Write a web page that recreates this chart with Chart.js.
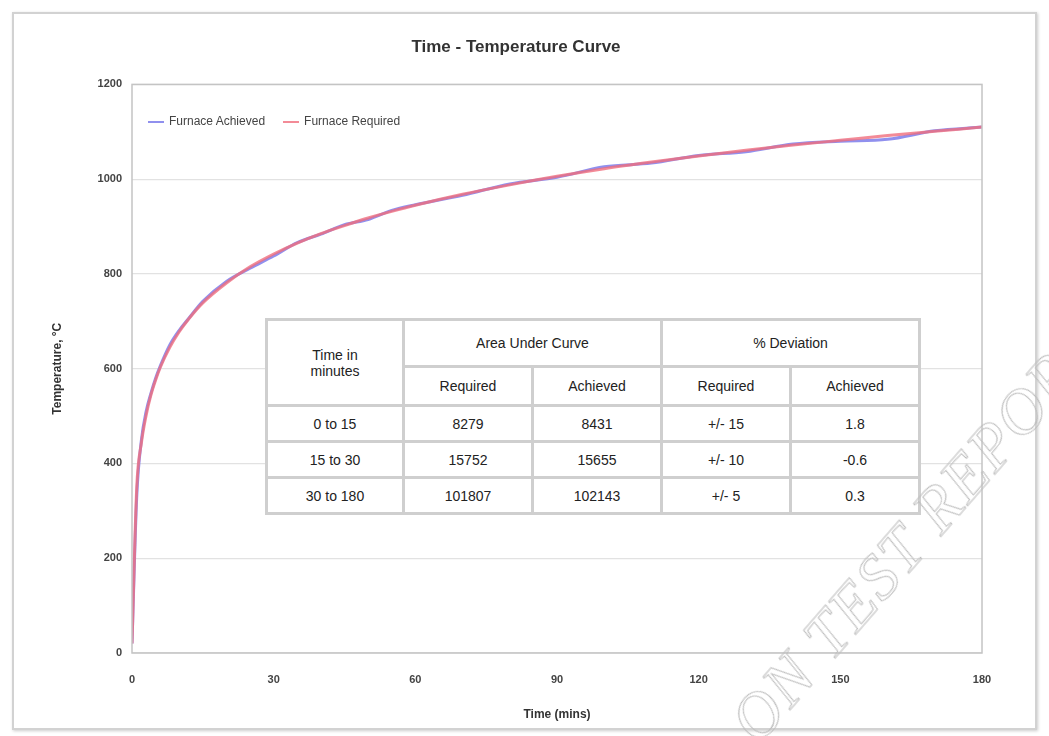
<!DOCTYPE html>
<html>
<head>
<meta charset="utf-8">
<script src="https://cdn.jsdelivr.net/npm/chart.js@4.4.1/dist/chart.umd.min.js"></script>
<style>
  html, body { margin: 0; padding: 0; background: #fff; }
  #wrap { position: relative; width: 1049px; height: 736px; overflow: hidden; font-family: Arial, "Liberation Sans", sans-serif; }
  #frame { position: absolute; left: 12px; top: 12px; width: 1021px; height: 714px; border: 2px solid #d2d2d2; box-shadow: 1px 1px 3px #ccc; }
  #legend { position: absolute; left: 148px; top: 114px; font-size: 12px; color: #444; display: flex; gap: 18px; }
  #legend span.mk { display: inline-block; width: 16px; height: 0; border-top: 2px solid; vertical-align: middle; margin-right: 5px; }
  #tbl { position: absolute; left: 265px; top: 318px; border-collapse: separate; border-spacing: 3px; background: #cfcfcf; font-size: 14px; color: #222; }
  #tbl td { background: #fff; text-align: center; padding: 0 6px; }
  #wm { position: absolute; left: 739px; top: 697px; height: 64px; line-height: 64px; font: italic 64px "Liberation Serif", "DejaVu Serif", serif; color: transparent; -webkit-text-stroke: 1px #bdbdbd; transform: rotate(-49deg); transform-origin: 0 50%; white-space: nowrap; letter-spacing: 2px; }
</style>
</head>
<body>
<div id="wrap">
  <canvas id="myChart" width="1049" height="736"></canvas>
  <div id="frame"></div>
  <div id="legend"></div>
  <table id="tbl"></table>
  <div id="wm">ON TEST REPORT</div>
</div>
<script>
// minutes
const times = [0, 1, 2, 3, 4, 5, 6, 8, 10, 12, 15, 20, 25, 30, 35, 40, 45, 50, 55, 60, 70, 80, 90, 100, 110, 120, 130, 140, 150, 160, 170, 180];
// deg C
const required = [20, 349, 444, 502, 544, 576, 603, 645, 678, 705, 739, 781, 815, 842, 865, 885, 902, 918, 932, 945, 968, 988, 1006, 1022, 1036, 1049, 1061, 1072, 1082, 1092, 1101, 1110];
const achieved = [20, 330, 450, 510, 548, 580, 606, 650, 681, 706, 742, 784, 812, 838, 866, 884, 904, 915, 934, 946, 966, 990, 1004, 1026, 1034, 1050, 1058, 1074, 1080, 1084, 1102, 1110];

const yTicks = [0, 200, 400, 600, 800, 1000, 1200];
const xTicks = [0, 30, 60, 90, 120, 150, 180];

const seriesNames = ["Furnace Achieved", "Furnace Required"];
const seriesColors = ["rgba(125,125,235,0.85)", "rgba(240,110,125,0.8)"];

// table in the chart
const headTop = ["Time in minutes", "Area Under Curve", "% Deviation"];
const headSub = ["Required", "Achieved", "Required", "Achieved"];
const periods = ["0 to 15", "15 to 30", "30 to 180"];
const areaRequired = ["8279", "15752", "101807"];
const areaAchieved = ["8431", "15655", "102143"];
const devRequired = ["+/- 15", "+/- 10", "+/- 5"];
const devAchieved = ["1.8", "-0.6", "0.3"];

const pts = (ys) => times.map((t, i) => ({ x: t, y: ys[i] }));

const frameBox = {
  id: "frameBox",
  afterDraw(c) {
    const a = c.chartArea, ctx = c.ctx;
    ctx.save();
    ctx.strokeStyle = "#c4c4c4";
    ctx.lineWidth = 1.5;
    ctx.strokeRect(a.left, a.top, a.right - a.left, a.bottom - a.top);
    ctx.restore();
  }
};

let chart = document.getElementById("myChart").getContext("2d");
const myChart = new Chart(chart, {
  type: "line",
  data: {
    datasets: [
      { label: seriesNames[0], data: pts(achieved), borderColor: seriesColors[0], borderWidth: 3, pointRadius: 0, cubicInterpolationMode: "monotone", order: 1 },
      { label: seriesNames[1], data: pts(required), borderColor: seriesColors[1], borderWidth: 3, pointRadius: 0, cubicInterpolationMode: "monotone", order: 0 },
    ],
  },
  options: {
    responsive: false,
    animation: false,
    layout: { padding: { left: 50, right: 67, top: 30, bottom: 14 } },
    plugins: {
      legend: { display: false },
      tooltip: { enabled: false },
      title: { display: true, text: "Time - Temperature Curve", color: "#333", font: { size: 17, weight: "bold", family: "Arial" }, padding: { top: 7, bottom: 27 } },
    },
    scales: {
      x: {
        type: "linear", min: 0, max: 180,
        afterBuildTicks: (s) => { s.ticks = xTicks.map(v => ({ value: v })); },
        afterFit: (s) => { s.height = 736 - 14 - 653; },
        grid: { display: false },
        border: { display: false },
        ticks: { color: "#444", font: { size: 11, weight: "bold", family: "Arial" }, padding: 12, callback: (v) => String(v) },
        title: { display: true, text: "Time (mins)", color: "#333", font: { size: 12, weight: "bold", family: "Arial" }, padding: 0 },
      },
      y: {
        min: 0, max: 1200,
        afterBuildTicks: (s) => { s.ticks = yTicks.map(v => ({ value: v })); },
        afterFit: (s) => { s.width = 132 - 50; },
        grid: { color: "#e2e2e2", lineWidth: 1.2, drawTicks: false },
        border: { display: false },
        ticks: { color: "#444", font: { size: 11, weight: "bold", family: "Arial" }, padding: 10, callback: (v) => String(v) },
        title: { display: true, text: "Temperature, °C", color: "#333", font: { size: 12, weight: "bold", family: "Arial" }, padding: 0 },
      },
    },
  },
  plugins: [frameBox],
});
window.myChart = myChart;

// legend inside plot
const lg = document.getElementById("legend");
seriesNames.forEach((n, i) => {
  const s = document.createElement("span");
  s.innerHTML = '<span class="mk" style="border-color:' + seriesColors[i] + '"></span>' + n;
  lg.appendChild(s);
});

// table
const tb = document.getElementById("tbl");
let html = '<tr style="height:44px"><td rowspan="2" style="width:122px">Time in<br>minutes</td>' +
  '<td colspan="2">' + headTop[1] + '</td><td colspan="2">' + headTop[2] + '</td></tr>';
html += '<tr style="height:36px">' + headSub.map(h => '<td style="width:114px">' + h + '</td>').join("") + '</tr>';
periods.forEach((p, i) => {
  html += '<tr style="height:33px"><td>' + p + '</td><td>' + areaRequired[i] + '</td><td>' + areaAchieved[i] +
    '</td><td>' + devRequired[i] + '</td><td>' + devAchieved[i] + '</td></tr>';
});
tb.innerHTML = html;
</script>
</body>
</html>
